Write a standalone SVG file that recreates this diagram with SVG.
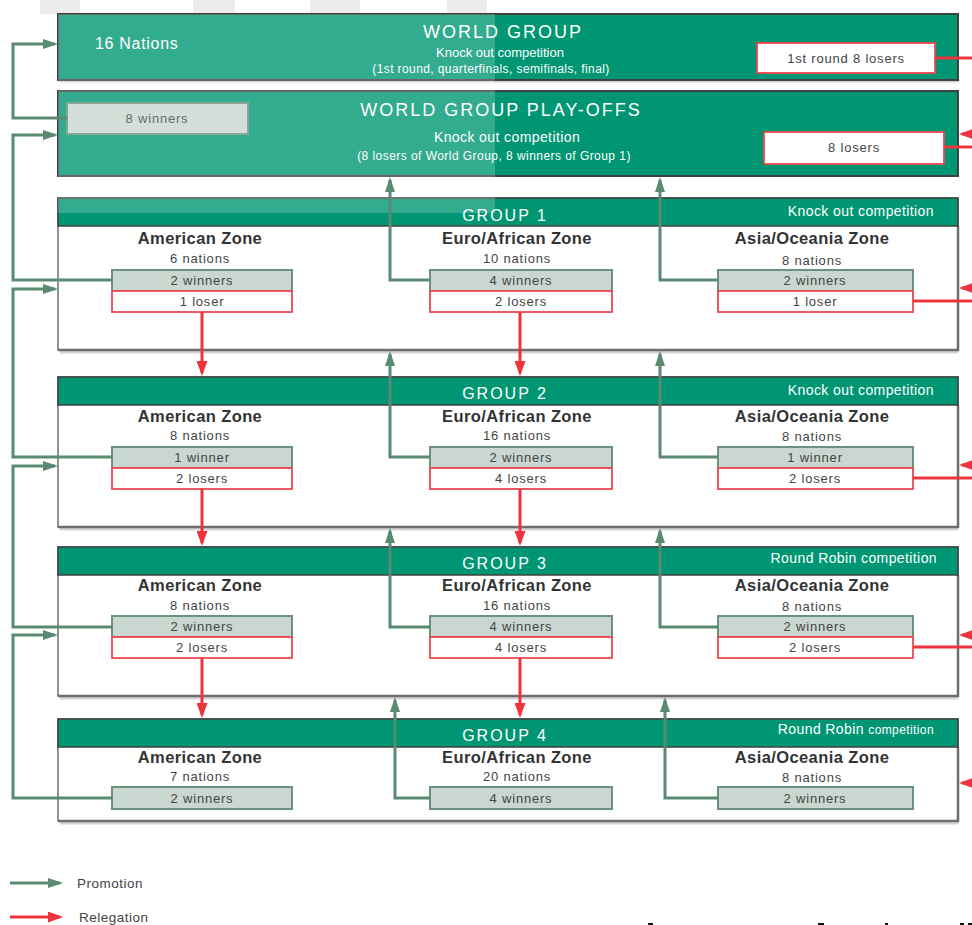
<svg xmlns="http://www.w3.org/2000/svg" width="972" height="925" viewBox="0 0 972 925">
<defs>
<marker id="ag" markerUnits="userSpaceOnUse" markerWidth="15" markerHeight="10" refX="12" refY="5" orient="auto"><path d="M0,0 L15,5 L0,10 z" fill="#5b8a72"/></marker>
<marker id="ar" markerUnits="userSpaceOnUse" markerWidth="15" markerHeight="11" refX="12" refY="5.5" orient="auto"><path d="M0,0 L15,5.5 L0,11 z" fill="#ee333f"/></marker>
<style>
.t{font-family:"Liberation Sans",Arial,Helvetica,sans-serif}
.wg{fill:#009673;stroke:#404040;stroke-width:2}
.hdr{fill:#009673;stroke:#404040;stroke-width:1.5}
.body{fill:#fff;stroke:#4a4a4a;stroke-width:1.2}
.edge{fill:none;stroke:#6e6e6e;stroke-width:2.5}
.shadow{fill:none;stroke:#d4d4d4;stroke-width:3}
.win{fill:#cad7d0;stroke:#6b927e;stroke-width:2}
.los{fill:#fff;stroke:#ee4750;stroke-width:1.8}
.big{fill:#fff;font-size:18px;letter-spacing:2px;text-anchor:middle}
.gt{fill:#fff;font-size:16px;letter-spacing:2px;text-anchor:middle}
.wsub{fill:#fff;text-anchor:middle}
.comp{fill:#fff;font-size:14px;letter-spacing:0.4px;text-anchor:end}
.zone{fill:#333;font-size:16.5px;font-weight:bold;letter-spacing:0.4px;text-anchor:middle}
.bx{fill:#444;font-size:13px;letter-spacing:0.8px;text-anchor:middle}
.pro{fill:none;stroke:#5b8a72;stroke-width:3}
.rel{fill:none;stroke:#ee333f;stroke-width:3}
.leg{fill:#444;font-size:13.5px;letter-spacing:0.5px}
.ghost{fill:#ececec}
</style>
</defs>
<rect width="972" height="925" fill="#fff"/>
<g id="watermark">
<rect class="ghost" x="40" y="0" width="40" height="14"/>
<rect class="ghost" x="193" y="0" width="42" height="14"/>
<rect class="ghost" x="310" y="0" width="50" height="14"/>
<rect class="ghost" x="447" y="0" width="40" height="14"/>
</g>
<g id="world-group">
<rect class="shadow" x="60" y="81" width="898" height="0.1"/>
<rect class="wg" x="58" y="14" width="900" height="66"/>
<text class="t" x="95" y="49" fill="#fff" font-size="16" letter-spacing="0.7">16 Nations</text>
<text class="t big" x="503" y="38">WORLD GROUP</text>
<text class="t wsub" x="500" y="57" font-size="13">Knock out competition</text>
<text class="t wsub" x="491" y="73" font-size="12" letter-spacing="0.4">(1st round, quarterfinals, semifinals, final)</text>
<g id="wg-losers">
<rect class="los" x="757" y="43" width="178" height="30" stroke-width="2"/>
<text class="t bx" x="846" y="63">1st round 8 losers</text>
</g>
</g>
<g id="play-offs">
<rect class="wg" x="58" y="91" width="900" height="85"/>
<text class="t big" x="501" y="116">WORLD GROUP PLAY-OFFS</text>
<text class="t wsub" x="507" y="142" font-size="14" letter-spacing="0.4">Knock out competition</text>
<text class="t wsub" x="494" y="160" font-size="12" letter-spacing="0.45">(8 losers of World Group, 8 winners of Group 1)</text>
<g id="po-winners">
<rect class="win" x="67" y="103" width="181" height="31"/>
<text class="t bx" x="157" y="123">8 winners</text>
</g>
<g id="po-losers">
<rect class="los" x="764" y="132" width="180" height="32" stroke-width="2"/>
<text class="t bx" x="854" y="152">8 losers</text>
</g>
</g>

<g id="group1">
<path class="shadow" d="M60,352 H958"/>
<rect class="body" x="58" y="198" width="900" height="152"/>
<path class="edge" d="M958,226 V350 H58"/>
<rect class="hdr" x="58" y="198" width="900" height="28"/>
<text class="t gt" x="505" y="221">GROUP 1</text>
<text class="t comp" x="934" y="216">Knock out competition</text>
<text class="t zone" x="200" y="244">American Zone</text>
<text class="t bx" x="200" y="263">6 nations</text>
<rect class="win" x="112" y="270" width="180" height="21"/><text class="t bx" x="202" y="285">2 winners</text>
<rect class="los" x="112" y="291" width="180" height="21"/><text class="t bx" x="202" y="306">1 loser</text>
<text class="t zone" x="517" y="244">Euro/African Zone</text>
<text class="t bx" x="517" y="263">10 nations</text>
<rect class="win" x="430" y="270" width="182" height="21"/><text class="t bx" x="521" y="285">4 winners</text>
<rect class="los" x="430" y="291" width="182" height="21"/><text class="t bx" x="521" y="306">2 losers</text>
<text class="t zone" x="812" y="244">Asia/Oceania Zone</text>
<text class="t bx" x="812" y="265">8 nations</text>
<rect class="win" x="718" y="270" width="195" height="21"/><text class="t bx" x="815" y="285">2 winners</text>
<rect class="los" x="718" y="291" width="195" height="21"/><text class="t bx" x="815" y="306">1 loser</text>
</g>

<g id="group2">
<path class="shadow" d="M60,529 H958"/>
<rect class="body" x="58" y="377" width="900" height="150"/>
<path class="edge" d="M958,405 V527 H58"/>
<rect class="hdr" x="58" y="377" width="900" height="28"/>
<text class="t gt" x="505" y="399">GROUP 2</text>
<text class="t comp" x="934" y="395">Knock out competition</text>
<text class="t zone" x="200" y="422">American Zone</text>
<text class="t bx" x="200" y="440">8 nations</text>
<rect class="win" x="112" y="447" width="180" height="21"/><text class="t bx" x="202" y="462">1 winner</text>
<rect class="los" x="112" y="468" width="180" height="21"/><text class="t bx" x="202" y="483">2 losers</text>
<text class="t zone" x="517" y="422">Euro/African Zone</text>
<text class="t bx" x="517" y="440">16 nations</text>
<rect class="win" x="430" y="447" width="182" height="21"/><text class="t bx" x="521" y="462">2 winners</text>
<rect class="los" x="430" y="468" width="182" height="21"/><text class="t bx" x="521" y="483">4 losers</text>
<text class="t zone" x="812" y="422">Asia/Oceania Zone</text>
<text class="t bx" x="812" y="441">8 nations</text>
<rect class="win" x="718" y="447" width="195" height="21"/><text class="t bx" x="815" y="462">1 winner</text>
<rect class="los" x="718" y="468" width="195" height="21"/><text class="t bx" x="815" y="483">2 losers</text>
</g>

<g id="group3">
<path class="shadow" d="M60,698 H958"/>
<rect class="body" x="58" y="547" width="900" height="149"/>
<path class="edge" d="M958,575 V696 H58"/>
<rect class="hdr" x="58" y="547" width="900" height="28"/>
<text class="t gt" x="505" y="569">GROUP 3</text>
<text class="t comp" x="937" y="563">Round Robin competition</text>
<text class="t zone" x="200" y="591">American Zone</text>
<text class="t bx" x="200" y="610">8 nations</text>
<rect class="win" x="112" y="616" width="180" height="21"/><text class="t bx" x="202" y="631">2 winners</text>
<rect class="los" x="112" y="637" width="180" height="21"/><text class="t bx" x="202" y="652">2 losers</text>
<text class="t zone" x="517" y="591">Euro/African Zone</text>
<text class="t bx" x="517" y="610">16 nations</text>
<rect class="win" x="430" y="616" width="182" height="21"/><text class="t bx" x="521" y="631">4 winners</text>
<rect class="los" x="430" y="637" width="182" height="21"/><text class="t bx" x="521" y="652">4 losers</text>
<text class="t zone" x="812" y="591">Asia/Oceania Zone</text>
<text class="t bx" x="812" y="611">8 nations</text>
<rect class="win" x="718" y="616" width="195" height="21"/><text class="t bx" x="815" y="631">2 winners</text>
<rect class="los" x="718" y="637" width="195" height="21"/><text class="t bx" x="815" y="652">2 losers</text>
</g>

<g id="group4">
<path class="shadow" d="M60,823 H958"/>
<rect class="body" x="58" y="719" width="900" height="102"/>
<path class="edge" d="M958,747 V821 H58"/>
<rect class="hdr" x="58" y="719" width="900" height="28"/>
<text class="t gt" x="505" y="741">GROUP 4</text>
<text class="t comp" x="934" y="734">Round Robin <tspan font-size="12">competition</tspan></text>
<text class="t zone" x="200" y="763">American Zone</text>
<text class="t bx" x="200" y="781">7 nations</text>
<rect class="win" x="112" y="787" width="180" height="22"/><text class="t bx" x="202" y="803">2 winners</text>
<text class="t zone" x="517" y="763">Euro/African Zone</text>
<text class="t bx" x="517" y="781">20 nations</text>
<rect class="win" x="430" y="787" width="182" height="22"/><text class="t bx" x="521" y="803">4 winners</text>
<text class="t zone" x="812" y="763">Asia/Oceania Zone</text>
<text class="t bx" x="812" y="782">8 nations</text>
<rect class="win" x="718" y="787" width="195" height="22"/><text class="t bx" x="815" y="803">2 winners</text>
</g>

<rect id="wash" x="58" y="14" width="437" height="199" fill="#fff" opacity="0.2"/>

<g id="connectors">
<path class="pro" d="M67,118 H13 V44 H55" marker-end="url(#ag)"/>
<path class="pro" d="M112,280 H13 V135 H55" marker-end="url(#ag)"/>
<path class="pro" d="M112,457 H13 V289 H55" marker-end="url(#ag)"/>
<path class="pro" d="M112,627 H13 V466 H55" marker-end="url(#ag)"/>
<path class="pro" d="M112,798 H13 V635 H55" marker-end="url(#ag)"/>
<path class="pro" d="M430,280 H390 V180" marker-end="url(#ag)"/>
<path class="pro" d="M430,457 H390 V354" marker-end="url(#ag)"/>
<path class="pro" d="M430,627 H390 V531" marker-end="url(#ag)"/>
<path class="pro" d="M430,798 H395 V700" marker-end="url(#ag)"/>
<path class="pro" d="M718,280 H660 V180" marker-end="url(#ag)"/>
<path class="pro" d="M718,457 H660 V354" marker-end="url(#ag)"/>
<path class="pro" d="M718,627 H660 V531" marker-end="url(#ag)"/>
<path class="pro" d="M718,798 H665 V700" marker-end="url(#ag)"/>
<path class="rel" d="M202,312 V373" marker-end="url(#ar)"/>
<path class="rel" d="M520,312 V373" marker-end="url(#ar)"/>
<path class="rel" d="M202,489 V543" marker-end="url(#ar)"/>
<path class="rel" d="M520,489 V543" marker-end="url(#ar)"/>
<path class="rel" d="M202,658 V715" marker-end="url(#ar)"/>
<path class="rel" d="M520,658 V715" marker-end="url(#ar)"/>
<path class="rel" d="M935,58 H972"/>
<path class="rel" d="M944,147 H972"/>
<path class="rel" d="M913,301 H972"/>
<path class="rel" d="M913,478 H972"/>
<path class="rel" d="M913,647 H972"/>
<path class="rel" d="M975,134 H962" marker-end="url(#ar)"/>
<path class="rel" d="M975,288 H962" marker-end="url(#ar)"/>
<path class="rel" d="M975,465 H962" marker-end="url(#ar)"/>
<path class="rel" d="M975,635 H962" marker-end="url(#ar)"/>
<path class="rel" d="M975,783 H962" marker-end="url(#ar)"/>
</g>

<g id="legend">
<path class="pro" d="M10,883 H60" stroke-width="4" marker-end="url(#ag)"/>
<text class="t leg" x="77" y="888">Promotion</text>
<path class="rel" d="M10,917 H60" stroke-width="4" marker-end="url(#ar)"/>
<text class="t leg" x="79" y="922">Relegation</text>
</g>

<g id="marks" fill="#111">
<rect x="648" y="923" width="5" height="2"/>
<rect x="818" y="923" width="6" height="2"/>
<rect x="885" y="923" width="3" height="2"/>
<rect x="960" y="923" width="4" height="2"/>
<rect x="968" y="923" width="4" height="2"/>
</g>
</svg>
